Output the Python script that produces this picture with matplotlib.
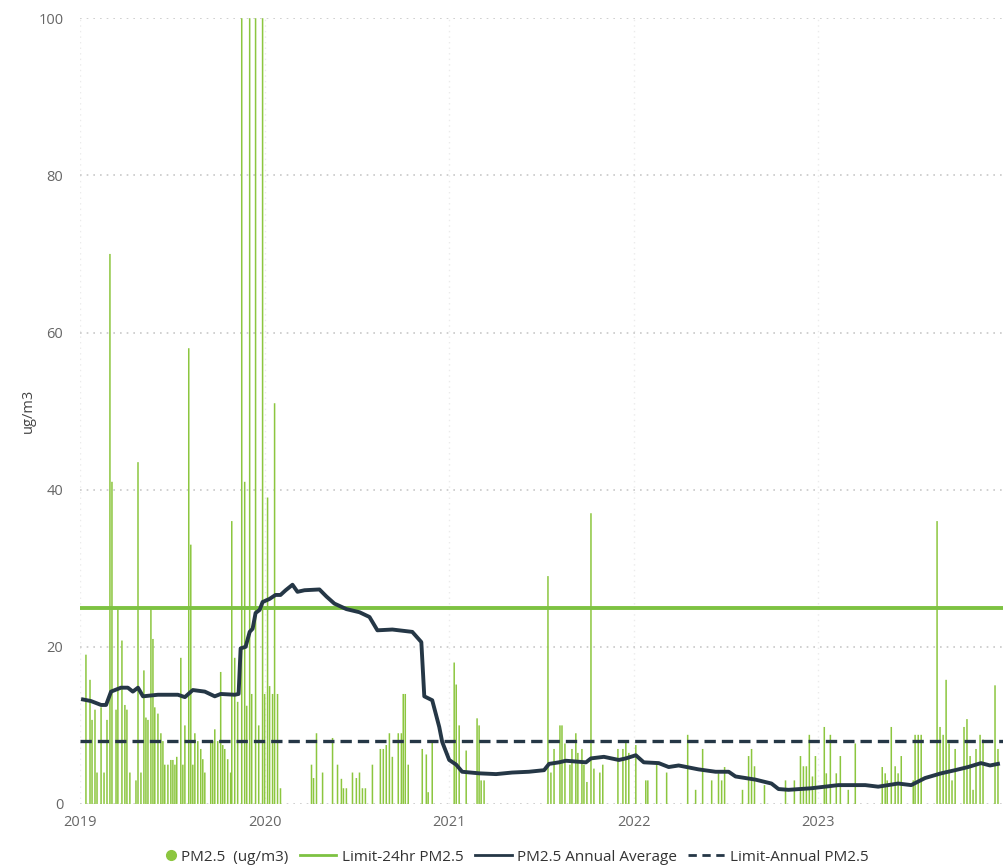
import numpy as np
import matplotlib.pyplot as plt
from matplotlib.lines import Line2D
from matplotlib.legend_handler import HandlerLine2D

plt.rcParams['font.family'] = ['Open Sans', 'DejaVu Sans']

# daily PM2.5 readings (decimal year, ug/m3)
pm_t = [2019.032, 2019.054, 2019.065, 2019.081, 2019.092, 2019.114, 2019.130, 2019.146,
        2019.162, 2019.173, 2019.195, 2019.205, 2019.227, 2019.243, 2019.254, 2019.270,
        2019.303, 2019.314, 2019.330, 2019.346, 2019.357, 2019.368, 2019.384, 2019.395,
        2019.405, 2019.422, 2019.438, 2019.449, 2019.459, 2019.476, 2019.492, 2019.503,
        2019.514, 2019.524, 2019.546, 2019.557, 2019.568, 2019.589, 2019.600, 2019.611,
        2019.622, 2019.638, 2019.654, 2019.665, 2019.676, 2019.708, 2019.719, 2019.730,
        2019.746, 2019.762, 2019.773, 2019.784, 2019.800, 2019.816, 2019.822, 2019.838,
        2019.854, 2019.876, 2019.892, 2019.903, 2019.919, 2019.930, 2019.951, 2019.968,
        2019.989, 2020.000, 2020.016, 2020.027, 2020.043, 2020.054, 2020.070, 2020.086,
        2020.254, 2020.265, 2020.281, 2020.314, 2020.368, 2020.395, 2020.416, 2020.427,
        2020.443, 2020.476, 2020.497, 2020.514, 2020.530, 2020.546, 2020.584, 2020.627,
        2020.643, 2020.659, 2020.676, 2020.692, 2020.724, 2020.741, 2020.751, 2020.762,
        2020.778, 2020.854, 2020.876, 2020.886, 2020.908, 2021.027, 2021.038, 2021.054,
        2021.092, 2021.151, 2021.162, 2021.173, 2021.189,
        2021.535, 2021.551, 2021.568, 2021.600, 2021.611, 2021.627, 2021.654, 2021.665,
        2021.686, 2021.697, 2021.719, 2021.730, 2021.746, 2021.768, 2021.784, 2021.816,
        2021.832, 2021.914, 2021.941, 2021.957, 2021.973, 2022.011, 2022.065, 2022.076,
        2022.124, 2022.178,
        2022.292, 2022.335, 2022.373, 2022.422, 2022.459, 2022.476, 2022.492, 2022.589,
        2022.622, 2022.638, 2022.654, 2022.708, 2022.822, 2022.870, 2022.903, 2022.919,
        2022.935, 2022.951, 2022.968, 2022.984, 2023.032, 2023.043, 2023.065, 2023.097,
        2023.119, 2023.162, 2023.200, 2023.346, 2023.362, 2023.373, 2023.395, 2023.416,
        2023.432, 2023.449, 2023.514, 2023.524, 2023.541, 2023.557, 2023.643, 2023.659,
        2023.676, 2023.692, 2023.708, 2023.724, 2023.741, 2023.789, 2023.805, 2023.822,
        2023.838, 2023.854, 2023.876, 2023.892, 2023.957, 2023.973]
pm_v = [19, 15.8, 10.7, 12, 4, 12.3, 4, 10.7,
        70, 41, 12, 25, 20.8, 12.6, 12, 4,
        3, 43.5, 4, 17, 11, 10.7, 25, 21,
        12.3, 11.5, 9, 8, 5, 5, 5.6, 5.6,
        5, 6, 18.6, 5, 10, 58, 33, 5,
        9, 8, 7, 5.7, 4, 8, 8, 9.5,
        8, 16.8, 7.5, 7, 5.7, 4, 36, 18.6,
        13, 100, 41, 12.5, 100, 14, 100, 10,
        100, 14, 39, 15, 14, 51, 14, 2,
        5, 3.3, 9, 4, 8.4, 5, 3.2, 2,
        2, 4, 3.3, 4, 2, 2, 5, 7,
        7, 7.5, 9, 6, 9, 9, 14, 14,
        5, 7, 6.3, 1.5, 8, 18, 15.2, 10,
        6.8, 10.9, 10, 3, 3,
        29, 4, 7, 10, 10, 7.7, 5, 7,
        9, 6.5, 7, 5, 2.8, 37, 4.5, 4,
        5, 7, 7, 8, 6.5, 7.5, 3, 3,
        5.2, 4,
        8.8, 1.8, 7, 3, 3.9, 3, 4.7, 1.8,
        6.1, 7, 4.8, 2.4, 3, 3, 6.1, 4.8,
        4.8, 8.8, 3.5, 6.1, 9.8, 3.9, 8.8, 3.9,
        6.1, 1.8, 7.7, 4.7, 3.9, 3, 9.8, 4.8,
        3.9, 6.1, 3, 8.8, 8.8, 8.8, 36, 9.8,
        8.8, 15.8, 7.7, 3, 7, 9.8, 10.8, 6.1,
        1.8, 7, 8.8, 8.2, 15.1, 7]

# rolling annual average
avg_t = [2019.016, 2019.059, 2019.114, 2019.141, 2019.168, 2019.222, 2019.259, 2019.286,
         2019.314, 2019.341, 2019.422, 2019.530, 2019.568, 2019.611, 2019.676, 2019.730,
         2019.762, 2019.838, 2019.859, 2019.870, 2019.897, 2019.919, 2019.935, 2019.951,
         2019.973, 2019.989, 2020.027, 2020.059, 2020.086, 2020.114, 2020.151, 2020.178,
         2020.216, 2020.297, 2020.335, 2020.378, 2020.443, 2020.514, 2020.568, 2020.611,
         2020.692, 2020.800, 2020.849, 2020.865, 2020.908, 2020.946, 2020.962, 2021.000,
         2021.038, 2021.070, 2021.162, 2021.254, 2021.341, 2021.432, 2021.514, 2021.541,
         2021.595, 2021.632, 2021.741, 2021.768, 2021.838, 2021.919, 2021.957, 2022.011,
         2022.054, 2022.135, 2022.189, 2022.243, 2022.351, 2022.443, 2022.514, 2022.551,
         2022.659, 2022.746, 2022.784, 2022.838, 2022.962, 2023.108, 2023.254, 2023.324,
         2023.432, 2023.503, 2023.578, 2023.665, 2023.741, 2023.811, 2023.881, 2023.930,
         2023.973]
avg_v = [13.3, 13.1, 12.6, 12.6, 14.3, 14.8, 14.8, 14.3,
         14.8, 13.7, 13.9, 13.9, 13.6, 14.5, 14.3, 13.7,
         14.0, 13.9, 14.0, 19.8, 20.0, 21.9, 22.3, 24.3,
         24.7, 25.7, 26.1, 26.6, 26.6, 27.2, 27.9, 27.0,
         27.2, 27.3, 26.4, 25.5, 24.8, 24.4, 23.8, 22.1,
         22.2, 21.9, 20.6, 13.7, 13.2, 9.8, 7.9, 5.6,
         5.0, 4.1, 3.9, 3.8, 4.0, 4.1, 4.3, 5.1,
         5.3, 5.5, 5.3, 5.8, 6.0, 5.6, 5.8, 6.2,
         5.3, 5.2, 4.7, 4.9, 4.4, 4.1, 4.1, 3.5,
         3.1, 2.6, 1.9, 1.8, 2.0, 2.4, 2.4, 2.2,
         2.6, 2.4, 3.3, 3.9, 4.3, 4.7, 5.2, 4.9,
         5.1]

limit_24hr = 25
limit_annual = 8
years = [2019, 2020, 2021, 2022, 2023]

green = '#8cc63f'
limit_green = '#7dc242'
navy = '#253746'


class MarkerAtRight(HandlerLine2D):
    # put the dot right next to the label instead of mid-handle
    def create_artists(self, legend, orig_handle, xdescent, ydescent,
                       width, height, fontsize, trans):
        arts = super().create_artists(legend, orig_handle, xdescent, ydescent,
                                      width, height, fontsize, trans)
        for a in arts:
            if a.get_marker() not in (None, 'None', '', ' '):
                a.set_xdata([width - xdescent - 3.5])
        return arts


fig = plt.figure(figsize=(10.08, 8.67), dpi=100)
ax = fig.add_axes([0.0794, 0.0727, 0.9156, 0.9063])

# thin daily columns, no pixel snapping so they all look the same width
ax.vlines(pm_t, 0, pm_v, color=green, lw=1.1, zorder=2, snap=False)
ax.axhline(limit_24hr, color=limit_green, lw=2.8, zorder=3)
ax.plot(avg_t, avg_v, color=navy, lw=2.8, solid_joinstyle='round', zorder=4)
ax.axhline(limit_annual, color=navy, lw=2.4, ls=(0, (3.4, 1.8)), zorder=3)

ax.set_xlim(2019.0, 2024.0)
ax.set_ylim(0, 100)
ax.set_xticks(years)
ax.set_xticklabels([str(y) for y in years])
ax.set_yticks([0, 20, 40, 60, 80, 100])
ax.tick_params(length=0, colors='#666666', labelsize=10.5)
ax.tick_params(axis='y', pad=12)
ax.tick_params(axis='x', pad=8)
ax.yaxis.grid(True, color='#c8c8c8', ls=(0, (1, 3)), lw=1.2, zorder=0)
ax.xaxis.grid(True, color='#ebebeb', ls=(0, (1, 3)), lw=1, zorder=0)
for s in ax.spines.values():
    s.set_visible(False)
ax.set_ylabel('ug/m3', color='#444444', fontsize=10.5)
ax.yaxis.set_label_coords(-0.048, 0.5)

handles = [
    Line2D([], [], marker='o', ls='none', color=green, markersize=7),
    Line2D([], [], color=limit_green, lw=2),
    Line2D([], [], color=navy, lw=2),
    Line2D([], [], color=navy, lw=2, ls=(0, (3, 2))),
]
labels = ['PM2.5  (ug/m3)', 'Limit-24hr PM2.5', 'PM2.5 Annual Average', 'Limit-Annual PM2.5']
fig.legend(handles, labels, loc='center', bbox_to_anchor=(0.5, 0.0115), ncol=4,
           frameon=False, fontsize=11, handlelength=2.4, handletextpad=0.35,
           columnspacing=0.75, labelcolor='#333333',
           handler_map={handles[0]: MarkerAtRight()})

fig.savefig('out.png', dpi=100)
